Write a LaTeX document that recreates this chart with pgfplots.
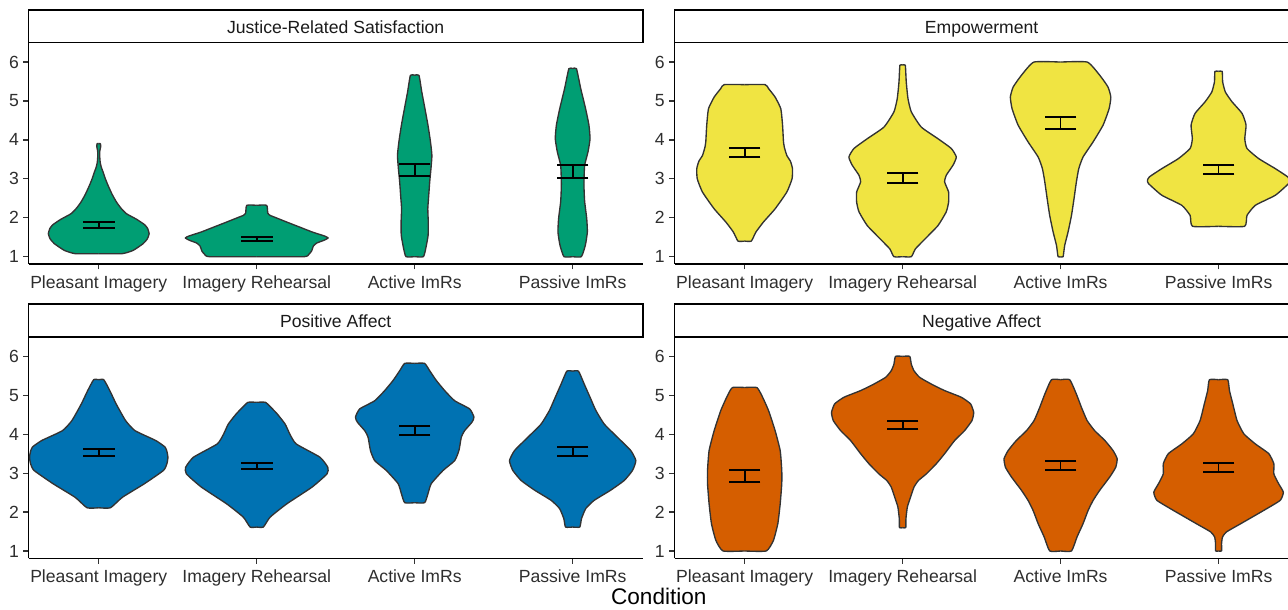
\documentclass[border=0pt]{standalone}
\usepackage{pgfplots}
\pgfplotsset{compat=1.18}
\usepackage{pgfplotstable}
\usepackage{fontspec}
\setmainfont{Liberation Sans}
\definecolor{cgreen}{HTML}{009E73}
\definecolor{cyellow}{HTML}{F0E442}
\definecolor{cblue}{HTML}{0072B2}
\definecolor{corange}{HTML}{D55E00}
\definecolor{grey10}{HTML}{1A1A1A}
\definecolor{grey20}{HTML}{333333}
\definecolor{grey30}{HTML}{2E2E2E}

% ---------- violin profiles: y value, half width ----------
\pgfplotstableread{
y w
1.077 0
1.077 0.148
1.16 0.217
1.334 0.281
1.46 0.308
1.59 0.319
1.72 0.31
1.82 0.291
1.96 0.24
2.105 0.175
2.25 0.14
2.405 0.112
2.6 0.085
2.83 0.059
3.0 0.042
3.18 0.027
3.3 0.016
3.43 0.009
3.6 0.006
3.72 0.007
3.82 0.012
3.87 0.012
3.905 0.01
3.905 0
}\JPI
\pgfplotstableread{
y w
1.0 0
1.0 0.30
1.06 0.33
1.15 0.348
1.27 0.358
1.35 0.38
1.42 0.425
1.48 0.452
1.53 0.43
1.63 0.354
1.76 0.272
1.89 0.19
2.02 0.11
2.06 0.085
2.12 0.07
2.32 0.063
2.32 0
}\JIR
\pgfplotstableread{
y w
1.0 0
1.0 0.055
1.21 0.07
1.55 0.085
1.89 0.086
2.23 0.083
2.58 0.089
2.92 0.095
3.26 0.103
3.6 0.109
3.95 0.10
4.38 0.084
4.8 0.065
5.23 0.045
5.66 0.027
5.66 0
}\JAc
\pgfplotstableread{
y w
1.0 0
1.0 0.055
1.29 0.08
1.63 0.093
1.98 0.089
2.41 0.076
2.75 0.072
3.0 0.072
3.35 0.076
3.69 0.097
4.03 0.11
4.38 0.103
4.8 0.082
5.32 0.051
5.83 0.024
5.83 0
}\JPa
\pgfplotstableread{
y w
1.40 0
1.40 0.042
1.63 0.071
1.89 0.119
2.23 0.193
2.66 0.267
3.0 0.30
3.26 0.303
3.45 0.29
3.6 0.267
3.8 0.252
3.95 0.246
4.38 0.24
4.8 0.229
5.1 0.193
5.32 0.151
5.42 0.13
5.42 0
}\EPI
\pgfplotstableread{
y w
1.0 0
1.0 0.055
1.2 0.081
1.46 0.143
1.8 0.224
2.15 0.276
2.4 0.291
2.66 0.291
2.92 0.266
3.09 0.276
3.35 0.319
3.56 0.34
3.78 0.308
4.03 0.224
4.33 0.118
4.72 0.055
5.06 0.034
5.49 0.023
5.92 0.017
5.92 0
}\EIR
\pgfplotstableread{
y w
1.0 0
1.0 0.016
1.29 0.026
1.63 0.047
2.06 0.069
2.49 0.085
2.92 0.10
3.26 0.115
3.56 0.142
3.95 0.206
4.38 0.269
4.8 0.307
5.1 0.318
5.36 0.30
5.66 0.248
6.0 0.169
6.0 0
}\EAc
\pgfplotstableread{
y w
1.78 0
1.78 0.165
2.06 0.18
2.32 0.233
2.58 0.36
2.88 0.444
2.96 0.45
3.05 0.438
3.26 0.36
3.52 0.254
3.78 0.18
4.03 0.166
4.38 0.174
4.68 0.149
4.98 0.085
5.23 0.043
5.49 0.026
5.76 0.023
5.76 0
}\EPa
\pgfplotstableread{
y w
2.11 0
2.11 0.074
2.38 0.15
2.73 0.29
3.07 0.41
3.25 0.432
3.41 0.438
3.55 0.432
3.67 0.42
3.84 0.36
4.09 0.23
4.35 0.17
4.78 0.11
5.12 0.07
5.40 0.032
5.40 0
}\PPI
\pgfplotstableread{
y w
1.615 0
1.615 0.042
1.87 0.085
2.21 0.19
2.64 0.35
2.98 0.445
3.15 0.45
3.41 0.40
3.75 0.25
4.0 0.21
4.26 0.18
4.52 0.13
4.69 0.09
4.82 0.055
4.82 0
}\PIR
\pgfplotstableread{
y w
2.24 0
2.24 0.063
2.47 0.084
2.73 0.105
3.07 0.18
3.32 0.253
3.58 0.28
3.92 0.295
4.09 0.316
4.31 0.363
4.44 0.375
4.65 0.348
4.86 0.253
5.12 0.19
5.38 0.137
5.63 0.095
5.82 0.063
5.82 0
}\PAc
\pgfplotstableread{
y w
1.615 0
1.615 0.045
1.83 0.056
2.09 0.083
2.3 0.136
2.56 0.24
2.81 0.326
3.07 0.379
3.32 0.40
3.58 0.368
3.92 0.284
4.26 0.2
4.61 0.147
4.95 0.11
5.29 0.073
5.62 0.037
5.62 0
}\PPa
\pgfplotstableread{
y w
1.0 0
1.0 0.137
1.27 0.182
1.7 0.21
2.21 0.225
2.73 0.235
3.07 0.235
3.58 0.225
4.09 0.193
4.61 0.151
4.99 0.109
5.2 0.077
5.2 0
}\NPI
\pgfplotstableread{
y w
1.6 0
1.6 0.02
1.83 0.021
2.13 0.03
2.38 0.05
2.64 0.072
2.81 0.10
2.98 0.15
3.24 0.213
3.5 0.266
3.84 0.33
4.09 0.392
4.35 0.439
4.56 0.45
4.78 0.43
4.95 0.371
5.12 0.266
5.29 0.181
5.46 0.108
5.63 0.072
5.8 0.055
6.0 0.045
6.0 0
}\NIR
\pgfplotstableread{
y w
1.0 0
1.0 0.069
1.36 0.104
1.7 0.142
2.04 0.174
2.3 0.206
2.56 0.248
2.9 0.311
3.15 0.349
3.37 0.358
3.58 0.332
3.84 0.28
4.09 0.216
4.35 0.168
4.69 0.132
5.03 0.1
5.4 0.058
5.4 0
}\NAc
\pgfplotstableread{
y w
1.0 0
1.0 0.019
1.19 0.019
1.36 0.025
1.49 0.05
1.7 0.14
2.04 0.285
2.3 0.39
2.51 0.41
2.73 0.38
2.98 0.35
3.24 0.35
3.5 0.318
3.75 0.233
4.01 0.16
4.35 0.117
4.78 0.09
5.12 0.069
5.4 0.058
5.4 0
}\NPa

% ---------- mean +/- SE ----------
\pgfplotstableread{
c lo hi
1 1.745 1.90
2 1.41 1.507
3 3.065 3.37
4 3.02 3.345
}\JSE
\pgfplotstableread{
c lo hi
1 3.55 3.80
2 2.888 3.14
3 4.285 4.58
4 3.123 3.365
}\ESE
\pgfplotstableread{
c lo hi
1 3.43 3.615
2 3.10 3.268
3 3.974 4.20
4 3.44 3.66
}\PSE
\pgfplotstableread{
c lo hi
1 2.77 3.077
2 4.129 4.34
3 3.069 3.316
4 3.04 3.27
}\NSE

\newcommand{\violin}[3]{%
\addplot[fill=#3, draw=none, smooth, tension=0.3] table[x expr={#1+ifthenelse(\thisrow{w}>0,\thisrow{w},-0.006)}, y=y]{#2} -- cycle;
\addplot[fill=#3, draw=none, smooth, tension=0.3] table[x expr={#1-ifthenelse(\thisrow{w}>0,\thisrow{w},-0.006)}, y=y]{#2} -- cycle;
\addplot[draw=grey20, line width=1.35pt, line join=round, smooth, tension=0.3] table[x expr={#1+\thisrow{w}}, y=y]{#2};
\addplot[draw=grey20, line width=1.35pt, line join=round, smooth, tension=0.3] table[x expr={#1-\thisrow{w}}, y=y]{#2};
}
\newcommand{\ebars}[1]{%
\addplot[black, line width=1.9pt, only marks, mark=-, mark size=15.8pt] table[x=c, y=lo]{#1};
\addplot[black, line width=1.9pt, only marks, mark=-, mark size=15.8pt] table[x=c, y=hi]{#1};
\addplot[draw=none,
  error bars/.cd, y dir=plus, y explicit, error mark=none,
  error bar style={line width=1.8pt, black, solid}] table[x=c, y=lo, y error expr={\thisrow{hi}-\thisrow{lo}}]{#1};
}
\newcommand{\strip}[2]{%
\draw[line width=1.5pt, black, fill=white] (rel axis cs:0,1) rectangle ([yshift=32.7pt]rel axis cs:1,1);
\node[anchor=base, inner sep=0pt, text=grey10, font=\fontsize{17.6}{20}\selectfont] at ([yshift=#2]rel axis cs:0.5,1) {#1};
}

\pgfplotsset{panel/.style={
  scale only axis, width=614.2pt, height=221.4pt,
  xmin=0.556, xmax=4.444, ymin=0.812, ymax=6.5,
  axis lines*=left,
  axis line style={-, line width=1.3pt, black},
  xtick={1,2,3,4},
  xticklabels={Pleasant Imagery, Imagery Rehearsal, Active ImRs, Passive ImRs},
  ytick={1,2,3,4,5,6},
  tick align=outside,
  major tick length=5.5pt,
  tick style={line width=1.2pt, grey20},
  /pgf/number format/assume math mode=true,
  xticklabel style={font=\fontsize{17.6}{20}\selectfont, text=grey30, anchor=base, inner sep=0pt, yshift=-18.8pt},
  yticklabel style={font=\fontsize{17.6}{20}\selectfont, text=grey30, anchor=east, inner sep=0pt, xshift=-4.1pt},
  clip=false,
}}

\begin{document}
\begin{tikzpicture}
\useasboundingbox (0,0) rectangle (1288pt,610pt);

% Top left
\begin{axis}[panel, at={(28.6pt,346pt)}, anchor=south west]
\violin{1}{\JPI}{cgreen}
\violin{2}{\JIR}{cgreen}
\violin{3}{\JAc}{cgreen}
\violin{4}{\JPa}{cgreen}
\ebars{\JSE}
\strip{Justice-Related Satisfaction}{9.4pt}
\end{axis}

% Top right
\begin{axis}[panel, at={(674.5pt,346pt)}, anchor=south west]
\violin{1}{\EPI}{cyellow}
\violin{2}{\EIR}{cyellow}
\violin{3}{\EAc}{cyellow}
\violin{4}{\EPa}{cyellow}
\ebars{\ESE}
\strip{Empowerment}{9.4pt}
\end{axis}

% Bottom left
\begin{axis}[panel, at={(28.6pt,51.7pt)}, anchor=south west]
\violin{1}{\PPI}{cblue}
\violin{2}{\PIR}{cblue}
\violin{3}{\PAc}{cblue}
\violin{4}{\PPa}{cblue}
\ebars{\PSE}
\strip{Positive Affect}{9.7pt}
\end{axis}

% Bottom right
\begin{axis}[panel, at={(674.5pt,51.7pt)}, anchor=south west]
\violin{1}{\NPI}{corange}
\violin{2}{\NIR}{corange}
\violin{3}{\NAc}{corange}
\violin{4}{\NPa}{corange}
\ebars{\NSE}
\strip{Negative Affect}{9.7pt}
\end{axis}

\node[anchor=base, inner sep=0pt, font=\fontsize{22.6}{26}\selectfont] at (658.8pt,5pt) {Condition};
\end{tikzpicture}
\end{document}
